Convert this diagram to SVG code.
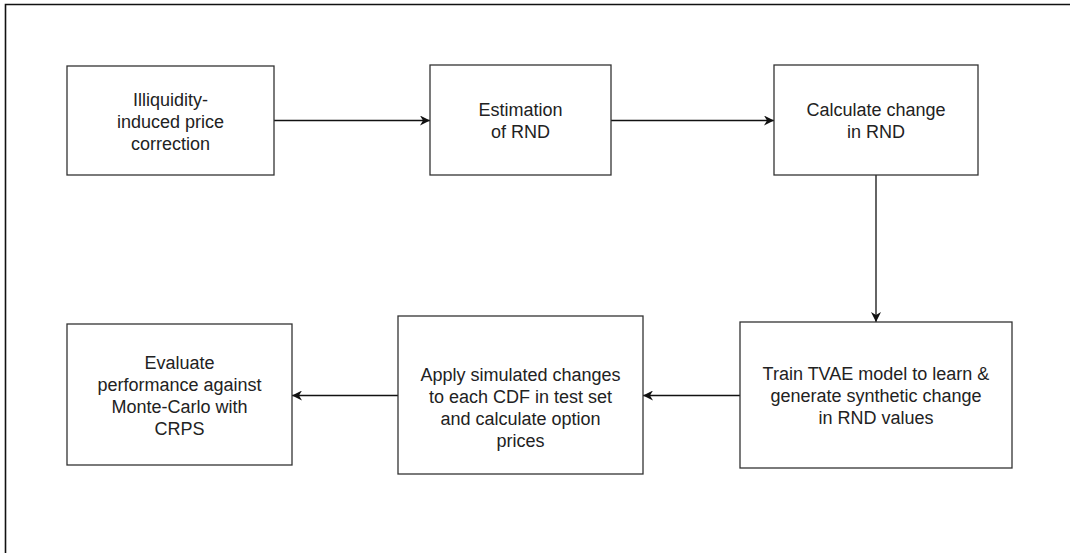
<svg xmlns="http://www.w3.org/2000/svg" width="1070" height="553" viewBox="0 0 1070 553">
<style>
.box{fill:#fff;stroke:#333;stroke-width:1.3}
.t{font-family:"Liberation Sans",Arial,sans-serif;font-size:18px;fill:#222;text-anchor:middle}
.c{fill:none;stroke:#111;stroke-width:1.3}
</style>
<defs>
<marker id="ah" viewBox="0 0 10 10" refX="10" refY="5" markerWidth="10" markerHeight="10" markerUnits="userSpaceOnUse" orient="auto">
<path d="M0,0 L10,5 L0,10 L3,5 Z" fill="#111"/>
</marker>
</defs>
<rect width="1070" height="553" fill="#fff"/>
<path d="M5.5,553 V4.5 H1070" fill="none" stroke="#111" stroke-width="1.6"/>
<g id="connectors">
<line class="c" x1="274" y1="120.5" x2="430" y2="120.5" marker-end="url(#ah)"/>
<line class="c" x1="611" y1="120.5" x2="774" y2="120.5" marker-end="url(#ah)"/>
<line class="c" x1="876" y1="175" x2="876" y2="322" marker-end="url(#ah)"/>
<line class="c" x1="740" y1="395.5" x2="643" y2="395.5" marker-end="url(#ah)"/>
<line class="c" x1="398" y1="395.5" x2="292" y2="395.5" marker-end="url(#ah)"/>
</g>
<g id="n1">
<rect class="box" x="67" y="66" width="207" height="109"/>
<text class="t" x="170.5" y="105.5">Illiquidity-</text>
<text class="t" x="170.5" y="127.5">induced price</text>
<text class="t" x="170.5" y="149.5">correction</text>
</g>
<g id="n2">
<rect class="box" x="430" y="65" width="181" height="110"/>
<text class="t" x="520.5" y="115.5">Estimation</text>
<text class="t" x="520.5" y="137.5">of RND</text>
</g>
<g id="n3">
<rect class="box" x="774" y="65" width="204" height="110"/>
<text class="t" x="876" y="115.5">Calculate change</text>
<text class="t" x="876" y="137.5">in RND</text>
</g>
<g id="n4">
<rect class="box" x="740" y="322" width="272" height="146"/>
<text class="t" x="876" y="379.5">Train TVAE model to learn &amp;</text>
<text class="t" x="876" y="401.5">generate synthetic change</text>
<text class="t" x="876" y="423.5">in RND values</text>
</g>
<g id="n5">
<rect class="box" x="398" y="316" width="245" height="158"/>
<text class="t" x="520.5" y="380.5">Apply simulated changes</text>
<text class="t" x="520.5" y="402.5">to each CDF in test set</text>
<text class="t" x="520.5" y="424.5">and calculate option</text>
<text class="t" x="520.5" y="446.5">prices</text>
</g>
<g id="n6">
<rect class="box" x="67" y="324" width="225" height="141"/>
<text class="t" x="179.5" y="368.5">Evaluate</text>
<text class="t" x="179.5" y="390.5">performance against</text>
<text class="t" x="179.5" y="412.5">Monte-Carlo with</text>
<text class="t" x="179.5" y="434.5">CRPS</text>
</g>
</svg>
